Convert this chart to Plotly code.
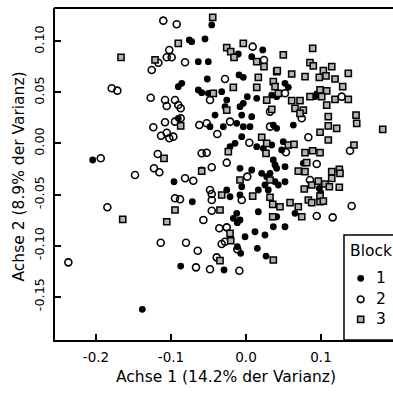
import plotly.graph_objects as go

# Block 1 (filled circles)
block1_x = [-0.0457, -0.0756, -0.0724, -0.0547, -0.0636, -0.0503, -0.0103, 0.0223, 0.0076, -0.0516,
            -0.0093, -0.0036, -0.0857, -0.0903, -0.0636, -0.0591, -0.0503, -0.0324, 0.0017, 0.0143,
            -0.0257, -0.0280, -0.0080, -0.0036, -0.0903, 0.0520, 0.0564, 0.0343, 0.0409, 0.0920,
            0.0943, 0.0364, 0.0409, 0.0631, 0.0497, 0.0476, 0.0343, 0.0364, 0.0387, 0.0409,
            0.0520, 0.0764, 0.0977, 0.0996, 0.0320, 0.0387, 0.0520, 0.0431, 0.0409, 0.0653,
            0.0520, 0.0364, -0.0116, -0.0013, 0.0120, 0.0253, -0.0116, -0.0071, 0.0151, 0.0267,
            -0.0871, -0.0293, -0.2044, -0.1383, -0.0480, -0.0413, -0.0303, -0.0124, -0.0057, 0.0076,
            -0.0036, 0.0053, -0.0057, -0.0213, -0.0147, 0.0143, 0.0231, -0.0591, -0.0960, -0.0080,
            0.0076, 0.0209, 0.0276, -0.0057, 0.0164, 0.0253, 0.0297, -0.0257, -0.0213, -0.0080,
            -0.0716, -0.0124, -0.0169, -0.0080, 0.0164]
block1_y = [0.1162, 0.1015, 0.0998, 0.1025, 0.0802, 0.0802, 0.0877, 0.0917, 0.0851, 0.0632,
            0.0672, 0.0649, 0.0590, 0.0557, 0.0525, 0.0498, 0.0492, 0.0508, 0.0459, 0.0443,
            0.0426, 0.0361, 0.0361, 0.0394, 0.0247, 0.0590, 0.0551, 0.0475, 0.0459, 0.0459,
            0.0485, 0.0181, 0.0149, 0.0181, 0.0018, -0.0064, -0.0015, -0.0162, -0.0211, -0.0243,
            -0.0227, -0.0194, -0.0439, -0.0482, -0.0292, -0.0375, -0.0375, -0.0407, -0.0718, -0.0684,
            -0.0816, -0.0816, -0.0776, -0.0914, -0.0865, -0.0897, -0.1012, -0.1076, -0.1027, -0.1103,
            -0.1201, -0.1240, -0.0162, -0.1625, 0.0165, 0.0279, 0.0165, 0.0198, 0.0279, 0.0263,
            0.0165, 0.0165, 0.0067, -0.0031, 0.0002, -0.0031, -0.0047, -0.0260, -0.0375, -0.0243,
            -0.0260, -0.0292, -0.0325, -0.0424, -0.0456, -0.0407, -0.0456, -0.0456, -0.0522, -0.0505,
            -0.0571, -0.0684, -0.0733, -0.0750, -0.0669]

# Block 2 (open circles)
block2_x = [-0.1103, -0.0924, -0.1169, -0.1257, -0.1057, -0.1023, -0.1791, -0.1716, -0.1271, -0.1080,
            -0.1057, -0.1236, -0.1080, -0.1133, -0.1057, -0.1023, -0.1937, -0.1177, -0.1227, -0.1156,
            -0.1480, -0.1849, -0.1137, -0.2369, -0.0991, -0.0813, 0.0089, 0.0240, -0.0280, -0.0947,
            -0.0903, -0.0871, -0.0480, 0.0520, 0.1276, 0.0743, 0.0831, 0.0533, 0.1387, 0.0943,
            0.0853, 0.0943, 0.1156, 0.1409, -0.0569, -0.0356, -0.0257, -0.0324, -0.0280, -0.0800,
            -0.0644, -0.0116, -0.0391, -0.0667, -0.0480, -0.0089, -0.0947, -0.0871, -0.0969, -0.0623,
            -0.0524, -0.0383, -0.0213, 0.0320, 0.0320, 0.0044, -0.0591, -0.0524, -0.0257, -0.0457,
            -0.0813, -0.0703, 0.0017, -0.0480, -0.0457, -0.0947, -0.0880, -0.0457, -0.0057, -0.0457]
block2_y = [0.1204, 0.1169, 0.0792, 0.0721, 0.0845, 0.0917, 0.0541, 0.0518, 0.0449, 0.0426,
            0.0368, 0.0159, 0.0208, 0.0076, 0.0106, 0.0051, -0.0145, -0.0103, -0.0243, -0.0282,
            -0.0309, -0.0625, -0.0973, -0.1165, 0.0845, 0.0796, 0.0949, 0.0819, 0.0632, 0.0426,
            0.0377, 0.0345, 0.0426, 0.0492, 0.0459, 0.0247, 0.0061, -0.0086, -0.0071, -0.0201,
            -0.0358, -0.0711, -0.0724, -0.0613, -0.0750, -0.0831, -0.0822, -0.0985, -0.0963, -0.0973,
            -0.1051, -0.1037, -0.1116, -0.1214, -0.1233, -0.1247, 0.0214, 0.0247, 0.0067, 0.0181,
            0.0198, 0.0093, 0.0214, 0.0312, 0.0165, 0.0008, -0.0096, -0.0090, -0.0188, -0.0233,
            -0.0341, -0.0365, -0.0325, -0.0456, -0.0495, -0.0537, -0.0547, -0.0554, -0.0554, -0.0659]

# Block 3 (grey squares)
block3_x = [-0.1667, -0.1213, -0.1093, -0.1644, -0.1057, -0.0444, -0.0903, -0.0257, -0.0204, -0.0160,
            -0.0036, 0.0143, 0.0240, 0.0409, 0.0164, -0.0436, -0.0169, 0.0143, 0.0364, 0.0387,
            0.0276, -0.0257, 0.0343, 0.0889, 0.0497, 0.0853, 0.0897, 0.0417, 0.0609, 0.0787,
            0.1031, 0.1143, 0.0977, 0.1067, 0.1187, 0.1364, 0.1289, 0.0431, 0.0609, 0.0720,
            0.0853, 0.0987, 0.1076, 0.1009, 0.1187, 0.1364, 0.1076, 0.0653, 0.0764, 0.0720,
            0.1097, 0.1467, 0.1097, 0.1209, 0.0987, 0.1097, 0.1476, 0.1823, 0.0564, 0.0640,
            0.1440, 0.0787, 0.0889, 0.0987, 0.0809, 0.0697, 0.0787, 0.1143, 0.1244, 0.1253,
            0.1143, 0.0964, 0.1053, 0.1111, 0.1244, 0.0876, 0.0777, 0.0987, 0.0831, 0.0987,
            0.1031, 0.0876, 0.0356, 0.0453, 0.0587, 0.0697, 0.0743, 0.0356, 0.0364, -0.0213,
            -0.0204, -0.0347, -0.0871, 0.0209, 0.0276, 0.0267, -0.0236, -0.0591, -0.0080, 0.0320,
            -0.0324, 0.0089, 0.0320, -0.0947, -0.0347]
block3_y = [0.0845, 0.0819, -0.0145, -0.0743, -0.0767, 0.1237, 0.0982, 0.0939, 0.0900, 0.0845,
            0.0982, 0.0802, 0.0753, 0.0704, 0.0649, 0.0492, 0.0551, 0.0551, 0.0606, 0.0557,
            0.0426, 0.0328, 0.0335, 0.0933, 0.0868, 0.0792, 0.0760, 0.0714, 0.0681, 0.0655,
            0.0714, 0.0753, 0.0649, 0.0662, 0.0632, 0.0688, 0.0557, 0.0492, 0.0420, 0.0420,
            0.0459, 0.0525, 0.0515, 0.0459, 0.0433, 0.0433, 0.0377, 0.0345, 0.0328, 0.0296,
            0.0263, 0.0279, 0.0172, 0.0149, 0.0110, 0.0034, 0.0198, 0.0139, -0.0015, -0.0008,
            -0.0015, -0.0090, -0.0071, -0.0090, -0.0188, -0.0270, -0.0276, -0.0276, -0.0253, -0.0292,
            -0.0341, -0.0368, -0.0397, -0.0424, -0.0429, -0.0407, -0.0446, -0.0515, -0.0554, -0.0571,
            -0.0564, -0.0580, -0.0596, -0.0620, -0.0580, -0.0620, -0.0718, -0.0718, -0.1142, -0.0880,
            -0.0953, -0.1149, 0.0172, 0.0061, 0.0002, -0.0096, -0.0080, -0.0270, -0.0358, -0.0358,
            -0.0505, -0.0515, -0.0527, -0.0652, -0.0652]

x_tick_vals = [-0.2, -0.1, 0.0, 0.1]
x_tick_text = ["-0.2", "-0.1", "0.0", "0.1"]
y_tick_vals = [-0.15, -0.10, -0.05, 0.00, 0.05, 0.10]
y_tick_text = ["-0.15", "-0.10", "-0.05", "0.00", "0.05", "0.10"]

x_title = "Achse 1 (14.2% der Varianz)"
y_title = "Achse 2 (8.9% der Varianz)"
legend_title = "Block"
legend_labels = ["1", "2", "3"]

FONT = "DejaVu Sans"
GREY = "#b4b4b4"

fig = go.Figure()
fig.add_trace(go.Scatter(x=block1_x, y=block1_y, mode="markers", name="1",
                         marker=dict(symbol="circle", size=6.8, color="black",
                                     line=dict(width=0))))
fig.add_trace(go.Scatter(x=block2_x, y=block2_y, mode="markers", name="2",
                         marker=dict(symbol="circle-open", size=7, color="black",
                                     line=dict(width=1.6, color="black"))))
fig.add_trace(go.Scatter(x=block3_x, y=block3_y, mode="markers", name="3",
                         marker=dict(symbol="square", size=6.2, color=GREY,
                                     line=dict(width=1.5, color="black"))))

axis_common = dict(showline=True, linewidth=2, linecolor="black", mirror=False,
                   ticks="inside", ticklen=6, tickwidth=1.5, tickcolor="black",
                   showgrid=False, zeroline=False, fixedrange=True)

fig.update_layout(
    width=393, height=394,
    margin=dict(l=55, r=0, t=8, b=54, autoexpand=False),
    paper_bgcolor="white", plot_bgcolor="white",
    showlegend=False,
    font=dict(family=FONT, color="black"),
    xaxis=dict(range=[-0.2547, 0.196], tickvals=x_tick_vals, ticktext=x_tick_text,
               tickfont=dict(size=13.5, family=FONT, color="black"),
               ticklabelstandoff=4, **axis_common),
    yaxis=dict(range=[-0.1926, 0.1328], tickvals=y_tick_vals, ticktext=y_tick_text,
               tickfont=dict(size=12.8, family=FONT, color="black"), tickangle=-90,
               ticklabelstandoff=4, **axis_common),
)

shapes = []
# top border of the box
shapes.append(dict(type="line", xref="paper", yref="paper", x0=-0.003, x1=1.02, y0=1, y1=1,
                   line=dict(color="black", width=2)))
# legend box
shapes.append(dict(type="rect", xref="paper", yref="paper", x0=0.855, x1=1.1, y0=0, y1=0.3163,
                   line=dict(color="black", width=1.5), fillcolor="white", layer="above"))
leg_x = 0.9044
leg_ys = [0.1858, 0.1226, 0.0623]
shapes.append(dict(type="circle", xref="paper", yref="paper", xsizemode="pixel", ysizemode="pixel",
                   xanchor=leg_x, yanchor=leg_ys[0], x0=-3.4, x1=3.4, y0=-3.4, y1=3.4,
                   fillcolor="black", line=dict(width=0), layer="above"))
shapes.append(dict(type="circle", xref="paper", yref="paper", xsizemode="pixel", ysizemode="pixel",
                   xanchor=leg_x, yanchor=leg_ys[1], x0=-3.3, x1=3.3, y0=-3.3, y1=3.3,
                   fillcolor="white", line=dict(width=1.6, color="black"), layer="above"))
shapes.append(dict(type="rect", xref="paper", yref="paper", xsizemode="pixel", ysizemode="pixel",
                   xanchor=leg_x, yanchor=leg_ys[2], x0=-3.1, x1=3.1, y0=-3.1, y1=3.1,
                   fillcolor=GREY, line=dict(width=1.5, color="black"), layer="above"))
fig.update_layout(shapes=shapes)

annotations = [
    dict(text=x_title, xref="paper", yref="paper", x=0.5060, y=-0.1114, showarrow=False,
         xanchor="center", yanchor="middle", font=dict(size=15.5, family=FONT, color="black")),
    dict(text=y_title, xref="paper", yref="paper", x=-0.108, y=0.4940, showarrow=False,
         xanchor="center", yanchor="middle", textangle=-90,
         font=dict(size=15.5, family=FONT, color="black")),
    dict(text=legend_title, xref="paper", yref="paper", x=0.866, y=0.269, showarrow=False,
         xanchor="left", yanchor="middle", font=dict(size=15.5, family=FONT, color="black")),
]
for lab, ly in zip(legend_labels, leg_ys):
    annotations.append(dict(text=lab, xref="paper", yref="paper", x=0.944, y=ly, showarrow=False,
                            xanchor="left", yanchor="middle",
                            font=dict(size=15.5, family=FONT, color="black")))
fig.update_layout(annotations=annotations)

fig.write_html("out.html")
